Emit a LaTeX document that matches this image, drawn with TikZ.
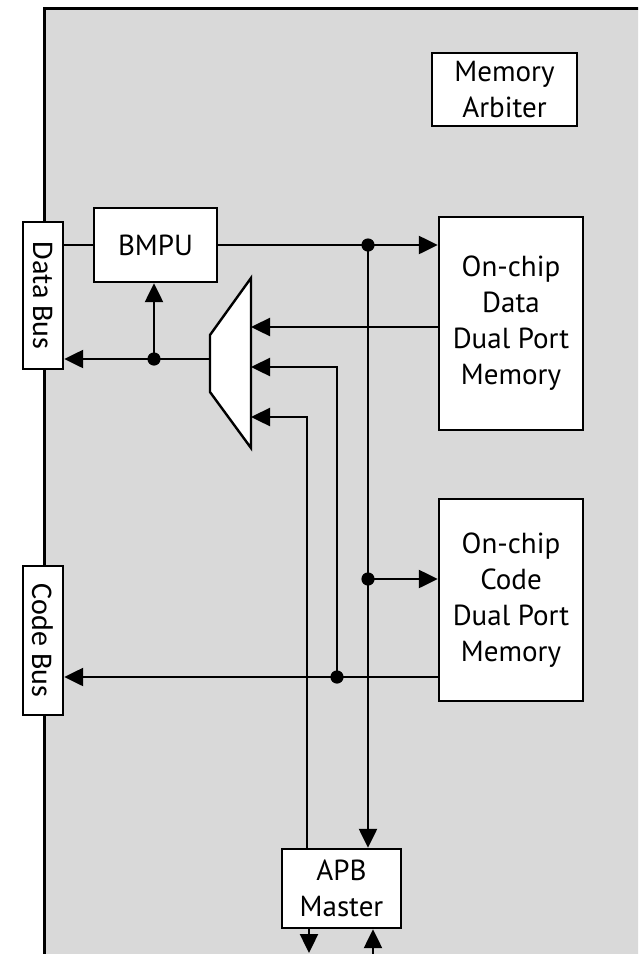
\documentclass[tikz,border=0pt]{standalone}
\usepackage{fontspec}
\newfontfamily\boxfont{PT Sans}
\newfontfamily\busfont{Carlito}
\usetikzlibrary{arrows.meta}
\definecolor{chipgray}{RGB}{217,217,217}
\tikzset{
  blk/.style={draw, line width=1.2pt, fill=white, align=center, inner sep=0pt,
    font=\boxfont\fontsize{14.5}{18}\selectfont},
  busbox/.style={draw, line width=1.2pt, fill=white, inner sep=0pt, rotate=-90,
    minimum height=20pt, font=\busfont\fontsize{15}{17}\selectfont},
  wire/.style={line width=1.2pt},
  arr/.style={-{Triangle[length=9.5pt,width=9pt]}},
  dot/.style={fill=black}
}
\begin{document}
\begin{tikzpicture}[x=0.5pt,y=-0.5pt]
\useasboundingbox (0,0) rectangle (638,954);
\clip (0,0) rectangle (638,954);
% chip outline
\draw[line width=1.5pt, fill=chipgray] (44,8) rectangle (700,1000);
% blocks
\node[blk, minimum width=72.5pt, minimum height=36.5pt] (arbiter) at (504.5,89.5) {Memory\\Arbiter};
\node[blk, minimum width=61.5pt, minimum height=37pt] (bmpu) at (155.5,245) {BMPU};
\node[blk, minimum width=72pt, minimum height=106.5pt] (datamem) at (511,323.5) {On-chip\\Data\\Dual Port\\Memory};
\node[blk, minimum width=72pt, minimum height=101pt] (codemem) at (511,600) {On-chip\\Code\\Dual Port\\Memory};
\node[blk, minimum width=59.5pt, minimum height=39.5pt] (apb) at (341.5,888.5) {APB\\Master};
\node[busbox, minimum width=73.5pt] (databus) at (43,295.5) {Data Bus};
\node[busbox, minimum width=74.5pt] (codebus) at (43,640.5) {Code Bus};
% mux
\draw[line width=1.2pt, fill=white] (210,335) -- (251,278) -- (251,448) -- (210,392) -- cycle;
\coordinate (muxout) at (210,359);
\coordinate (muxin1) at (251,327);
\coordinate (muxin2) at (251,367);
\coordinate (muxin3) at (251,417);
% junctions
\coordinate (j1) at (368,245);
\coordinate (j2) at (368,579);
\coordinate (j3) at (154,359);
\coordinate (j4) at (337,677);
\coordinate (t3) at (307,417);
\coordinate (out1) at (309,953);
\coordinate (in1) at (373,954);
% connectors
\draw[wire] (databus.north |- bmpu.west) -- (bmpu.west);
\draw[wire, arr] (bmpu.east) -- (bmpu.east -| datamem.west);
\draw[wire, arr] (j1) -- (j1 |- apb.north);
\draw[wire, arr] (j2) -- (j2 -| codemem.west);
\draw[wire, arr] (datamem.west |- muxin1) -- (muxin1);
\draw[wire, arr] (muxout) -- (databus.north |- muxout);
\draw[wire, arr] (j3) -- (j3 |- bmpu.south);
\draw[wire, arr] (codemem.west |- j4) -- (codebus.north |- j4);
\draw[wire, arr] (j4) |- (muxin2);
\draw[wire, arr] (t3 |- apb.north) -- (t3) -- (muxin3);
\draw[wire, arr] (out1 |- apb.south) -- (out1);
\draw[wire, arr] (in1) -- (in1 |- apb.south);
% dots
\fill[dot] (j1) circle (3.3pt);
\fill[dot] (j2) circle (3.3pt);
\fill[dot] (j3) circle (3.3pt);
\fill[dot] (j4) circle (3.3pt);
\end{tikzpicture}
\end{document}
